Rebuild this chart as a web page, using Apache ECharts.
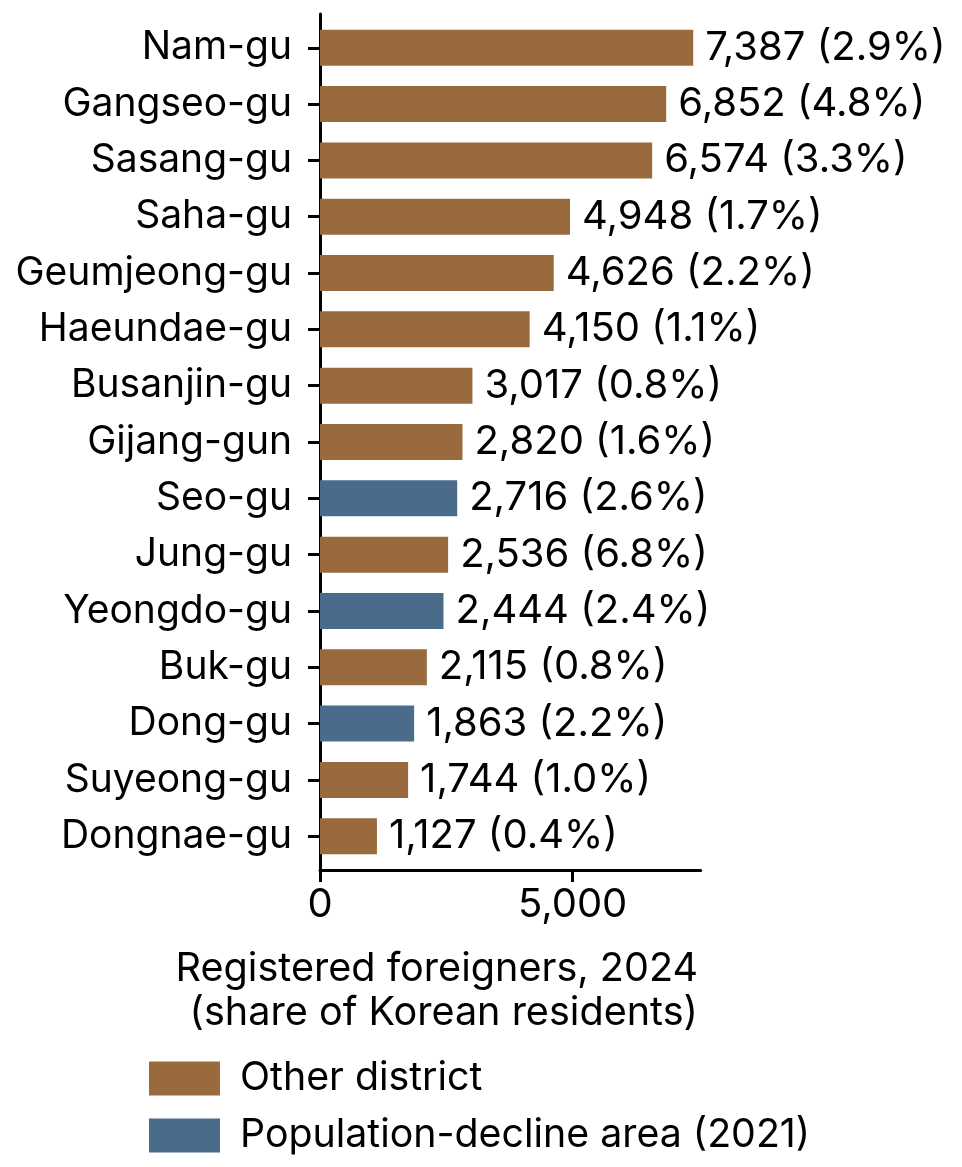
<!DOCTYPE html>
<html>
<head>
<meta charset="utf-8">
<style>
  html, body { margin: 0; padding: 0; background: #fff; }
  #chart { width: 962px; height: 1167px; }
</style>
<script src="https://cdn.jsdelivr.net/npm/echarts@6/dist/echarts.min.js"></script>
</head>
<body>
<div id="chart"></div>
<script>
// districts, top to bottom
var districts = ['Nam-gu', 'Gangseo-gu', 'Sasang-gu', 'Saha-gu', 'Geumjeong-gu', 'Haeundae-gu',
  'Busanjin-gu', 'Gijang-gun', 'Seo-gu', 'Jung-gu', 'Yeongdo-gu', 'Buk-gu', 'Dong-gu',
  'Suyeong-gu', 'Dongnae-gu'];
var foreigners = [7387, 6852, 6574, 4948, 4626, 4150, 3017, 2820, 2716, 2536, 2444, 2115, 1863, 1744, 1127];
var shares = [2.9, 4.8, 3.3, 1.7, 2.2, 1.1, 0.8, 1.6, 2.6, 6.8, 2.4, 0.8, 2.2, 1.0, 0.4];
// true = population-decline area (2021)
var decline = [false, false, false, false, false, false, false, false, true, false, true, false, true, false, false];
var xTicks = [0, 5000];

var BROWN = '#996a3e';
var BLUE = '#4b6b8a';
var FONT = 'Inter';
var xMax = 7535;

var otherData = foreigners.map(function (v, i) { return decline[i] ? '-' : v; });
var declineData = foreigners.map(function (v, i) { return decline[i] ? v : '-'; });

function fmt(v) {
  return v.toString().replace(/\B(?=(\d{3})+(?!\d))/g, ',');
}

var barLabel = {
  show: true,
  position: 'right',
  distance: 12,
  fontSize: 40,
  fontFamily: FONT,
  color: '#000',
  formatter: function (p) {
    return fmt(p.value) + ' (' + shares[p.dataIndex].toFixed(1) + '%)';
  }
};

var chart = echarts.init(document.getElementById('chart'), null, { renderer: 'canvas' });
chart.setOption({
  animation: false,
  textStyle: { fontFamily: FONT },
  title: {
    text: 'Registered foreigners, 2024\n(share of Korean residents)',
    left: 698,
    top: 947,
    padding: 0,
    textAlign: 'right',
    textStyle: { fontSize: 39.6, lineHeight: 44, fontWeight: 'normal', color: '#000', fontFamily: FONT }
  },
  legend: {
    orient: 'vertical',
    left: 149,
    top: 1059,
    padding: 0,
    itemWidth: 71,
    itemHeight: 34,
    itemGap: 18,
    icon: 'rect',
    data: ['Other district', 'Population-decline area (2021)'],
    textStyle: { fontSize: 39.3, lineHeight: 34, color: '#000', fontFamily: FONT, padding: [0, 0, 0, 15] }
  },
  grid: [
    { left: 320, width: 380.7, top: 19.6, height: 844.8 },
    { left: 320, width: 380.7, top: 14, height: 856 }
  ],
  xAxis: [
    { gridIndex: 0, type: 'value', min: 0, max: xMax, show: false },
    {
      gridIndex: 1, type: 'value', min: 0, max: xMax, interval: 5000,
      axisLine: { show: true, lineStyle: { color: '#000', width: 3 } },
      axisTick: { show: true, length: 12, lineStyle: { color: '#000', width: 3 },
        customValues: xTicks },
      axisLabel: { fontSize: 40, color: '#000', margin: 15, fontFamily: FONT,
        customValues: xTicks, formatter: function (v) { return fmt(v); } },
      splitLine: { show: false }
    }
  ],
  yAxis: [
    {
      gridIndex: 0, type: 'category', inverse: true, data: districts,
      axisLine: { show: false },
      axisTick: { show: true, alignWithLabel: true, length: 12, lineStyle: { color: '#000', width: 3 } },
      axisLabel: { fontSize: 39, color: '#000', margin: 28, fontFamily: FONT }
    },
    {
      gridIndex: 1, type: 'value', min: 0, max: 1,
      axisLine: { show: true, lineStyle: { color: '#000', width: 3 } },
      axisTick: { show: false },
      axisLabel: { show: false },
      splitLine: { show: false }
    }
  ],
  series: [
    {
      name: 'Other district',
      type: 'bar',
      xAxisIndex: 0, yAxisIndex: 0,
      stack: 'all',
      barWidth: 36,
      itemStyle: { color: BROWN },
      label: barLabel,
      data: otherData
    },
    {
      name: 'Population-decline area (2021)',
      type: 'bar',
      xAxisIndex: 0, yAxisIndex: 0,
      stack: 'all',
      barWidth: 36,
      itemStyle: { color: BLUE },
      label: barLabel,
      data: declineData
    }
  ]
});
</script>
</body>
</html>
